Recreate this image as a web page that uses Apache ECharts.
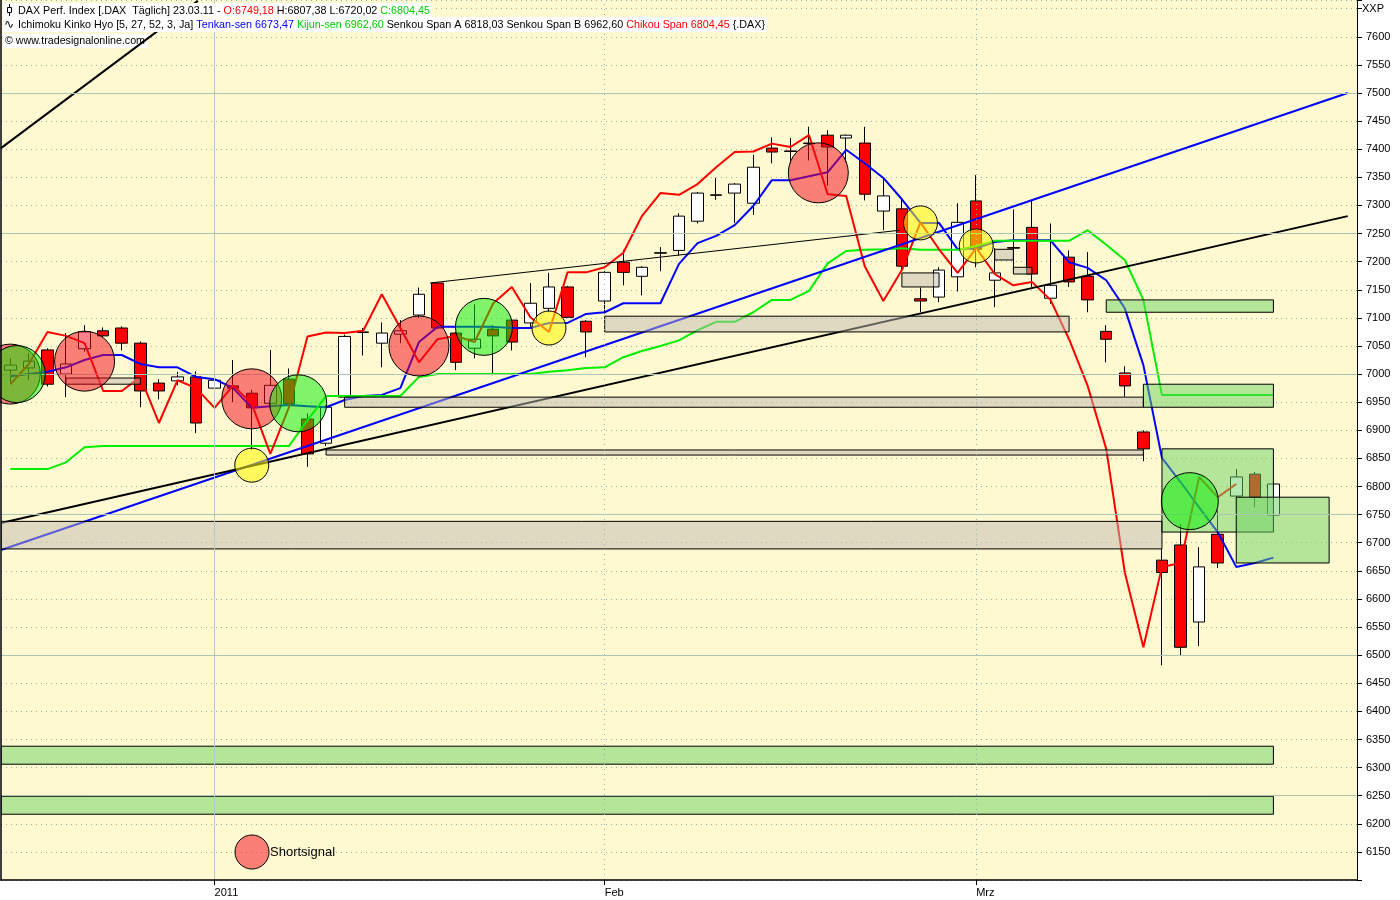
<!DOCTYPE html>
<html>
<head>
<meta charset="utf-8">
<title>DAX Perf. Index – Ichimoku Kinko Hyo</title>
<script src="https://cdn.jsdelivr.net/npm/echarts@6/dist/echarts.min.js"></script>
<style>
  html, body { margin: 0; padding: 0; background: #ffffff; }
  #chart { width: 1400px; height: 900px; }
</style>
</head>
<body>
<div id="chart"></div>
<script>
// ---- Daily bars (DAX), plus empty days on the right -----------------------
const dates = [
  '17.12.10','20.12.10','21.12.10','22.12.10','23.12.10','24.12.10','27.12.10','28.12.10','29.12.10','30.12.10','31.12.10',
  '03.01.11','04.01.11','05.01.11','06.01.11','07.01.11','10.01.11','11.01.11','12.01.11','13.01.11','14.01.11',
  '17.01.11','18.01.11','19.01.11','20.01.11','21.01.11','24.01.11','25.01.11','26.01.11','27.01.11','28.01.11','31.01.11',
  '01.02.11','02.02.11','03.02.11','04.02.11','07.02.11','08.02.11','09.02.11','10.02.11','11.02.11',
  '14.02.11','15.02.11','16.02.11','17.02.11','18.02.11','21.02.11','22.02.11','23.02.11','24.02.11','25.02.11','28.02.11',
  '01.03.11','02.03.11','03.03.11','04.03.11','07.03.11','08.03.11','09.03.11','10.03.11','11.03.11',
  '14.03.11','15.03.11','16.03.11','17.03.11','18.03.11','21.03.11','22.03.11','23.03.11',
  '24.03.11','25.03.11','28.03.11','29.03.11'
];

const opens = [
  7007, 7011, 7043, 7000, 7045, 7077, 7082, 7055, 6984, 6988,
  6995, 6975, 6979, 6966, 6948, 6991, 6920, 6877, 6959, 7075,
  7055, 7071, 7105, 7162, 7073, 7046, 7080, 7096, 7091, 7117,
  7155, 7094, 7130, 7199, 7174, 7215, 7220, 7272, 7318, 7322,
  7304, 7402, 7397, 7411, 7425, 7420, 7411, 7290, 7294, 7134,
  7137, 7173, 7308, 7167, 7225, 7261, 7135, 7208, 7174, 7076,
  7002, 6897, 6669, 6696, 6559, 6715, 6783, 6822, 6749.18
];
const closes = [
  7016, 7023, 6982, 7018, 7075, 7068, 7055, 6970, 6970, 6995,
  6913, 6989, 6975, 6940, 6980, 6947, 6858, 6941, 7067, 7074,
  7073, 7077, 7142, 7082, 7021, 7062, 7068, 7057, 7126, 7155,
  7101, 7075, 7181, 7181, 7190, 7216, 7281, 7322, 7319, 7338,
  7368, 7395, 7396, 7410, 7404, 7425, 7320, 7317, 7192, 7130,
  7185, 7270, 7222, 7180, 7224, 7178, 7158, 7164, 7132, 7062,
  6979, 6867, 6647, 6514, 6657, 6664, 6817, 6781, 6804.45
];
const lows = [
  6984, 6989, 6978, 6959, 7040, 7065, 7042, 6941, 6955, 6980,
  6895, 6953, 6950, 6865, 6945, 6940, 6835, 6872, 6955, 7033,
  7012, 7055, 7100, 7080, 7007, 7028, 6998, 7042, 7083, 7110,
  7100, 7030, 7108, 7158, 7140, 7183, 7211, 7268, 7310, 7269,
  7283, 7375, 7375, 7380, 7335, 7377, 7309, 7256, 7185, 7110,
  7128, 7147, 7190, 7119, 7180, 7155, 7125, 7155, 7110, 7021,
  6960, 6845, 6482, 6500, 6516, 6655, 6780, 6763, 6720.02
];
const highs = [
  7028, 7037, 7046, 7073, 7087, 7083, 7085, 7058, 6991, 7004,
  7005, 7027, 7025, 6972, 7043, 7010, 6930, 6945, 7070, 7082,
  7092, 7096, 7154, 7163, 7075, 7124, 7087, 7098, 7162, 7180,
  7157, 7096, 7183, 7221, 7192, 7226, 7286, 7324, 7349, 7340,
  7390, 7421, 7420, 7440, 7434, 7426, 7440, 7349, 7310, 7154,
  7190, 7304, 7354, 7224, 7293, 7309, 7268, 7220, 7217, 7087,
  7014, 6900, 6690, 6733, 6692, 6758, 6831, 6826, 6807.38
];

// ---- Ichimoku lines ----------------------------------------------------------
const tenkan = [
  6996, 7000, 7004, 7012, 7025, 7034, 7034, 7018, 7012, 7012,
  6995, 6991, 6975, 6940, 6943, 6945, 6943, 6941, 6954, 6961,
  6963, 6975, 7057, 7084, 7084, 7084, 7084, 7082, 7082, 7091,
  7091, 7107, 7110, 7126, 7126, 7126, 7196, 7233, 7246, 7265,
  7299, 7345, 7345, 7352, 7359, 7399, 7375, 7349, 7311, 7269,
  7269, 7222, 7224, 7235, 7238, 7238, 7238, 7199, 7189, 7167,
  7117, 7016, 6851, 6808, 6763, 6719, 6657, 6664, 6673.47
];
const kijun = [
  6831, 6831, 6831, 6843, 6870, 6872, 6872, 6872, 6872, 6872,
  6872, 6872, 6872, 6872, 6872, 6872, 6918, 6961, 6961, 6961,
  6961, 6961, 6995, 7000, 7000, 7000, 7000, 7000, 7000, 7004,
  7007, 7011, 7012, 7030, 7041, 7050, 7060, 7078, 7093, 7093,
  7110, 7132, 7132, 7148, 7197, 7219, 7221, 7222, 7224, 7221,
  7221, 7221, 7228, 7237, 7237, 7237, 7237, 7237, 7256, 7230,
  7203, 7132, 6962.6, 6962.6, 6962.6, 6962.6, 6962.6, 6962.6, 6962.6
];
const chikouLag = 2;            // closes plotted this many bars back
const senkouA = 6818.03;
const senkouB = 6962.60;

// ---- Trend lines: [bar index, price] pairs ----------------------------------
const blueTrend  = [[-0.5, 6687], [72, 7500]];
const blackTrend = [[-0.5, 6735], [72, 7281]];
const steepTrend = [[-0.5, 7402], [10.1, 7664]];
const highsTrend = [[22.6, 7162], [47.9, 7256]];

// ---- Price zones: [from bar, to bar, upper price, lower price] -------------
const greyZones = [
  [-0.5, 62, 6738, 6689],
  [17, 61, 6865, 6856],
  [18, 61, 6959, 6941],
  [32, 57, 7103, 7075],
  [3, 7, 6993, 6982],
  [48, 50, 7180, 7155],
  [53, 54, 7222, 7203],
  [54, 55, 7190, 7178]
];
const greenZones = [
  [-0.5, 68, 6338, 6306],
  [-0.5, 68, 6249, 6217],
  [59, 68, 7132, 7110],
  [61, 68, 6982, 6941],
  [62, 68, 6867, 6719],
  [66, 71, 6781, 6664]
];

// ---- Signal markers: [bar index, price] -------------------------------------
const shortSignals = [[0, 7000], [4, 7023], [13, 6956], [22, 7050], [43.5, 7358]];
const longSignals  = [[0.35, 7000], [15.5, 6948], [25.5, 7084], [63.5, 6774]];
const crossSignals = [[13, 6838], [29, 7082], [49, 7269], [52, 7228]];

// ---- Axis labels --------------------------------------------------------------
const monthLabels = { '03.01.11': '2011', '01.02.11': 'Feb', '01.03.11': 'Mrz' };
const solidPriceLevels = [6250, 6500, 6750, 7000, 7250, 7500];

// -----------------------------------------------------------------------------
const FONT = '"Liberation Sans", Arial, sans-serif';
const BG = '#fef9d0';
const fmt = v => v.toFixed(2).replace('.', ',');
const last = a => a[a.length - 1];

const candles = opens.map((o, i) => [o, closes[i], lows[i], highs[i]]);
const chikou = closes.slice(chikouLag);
const isMonthStart = (idx, val) => Object.prototype.hasOwnProperty.call(monthLabels, val);

const measureCtx = document.createElement('canvas').getContext('2d');
function textWidth(t, font) { measureCtx.font = font; return measureCtx.measureText(t).width; }

// one header row, squeezed horizontally to the given width
function headerRow(segments, x, yMid, width, z) {
  const font = '11px ' + FONT;
  let cum = 0;
  const children = segments.map(([t, c]) => {
    const el = { type: 'text', x: cum, y: 0, z: z,
      style: { text: t, fill: c, font: font, align: 'left', verticalAlign: 'middle' } };
    cum += textWidth(t, font);
    return el;
  });
  return { type: 'group', x: x, y: yMid, scaleX: width / cum, z: z, children: children };
}

const BLACK = '#000000', RED = '#ff0000', GREEN = '#00cc00', BLUE = '#0000ff';
const graphics = [
  { type: 'rect', z: 101, shape: { x: 3, y: 3, width: 429, height: 14 }, style: { fill: '#ffffff' } },
  { type: 'rect', z: 101, shape: { x: 3, y: 17, width: 764, height: 15 }, style: { fill: '#ffffff' } },
  { type: 'rect', z: 2, shape: { x: 3, y: 34, width: 145, height: 14 }, style: { fill: '#ffffff' } },
  // candle icon
  { type: 'line', z: 102, shape: { x1: 9.5, y1: 4, x2: 9.5, y2: 16 }, style: { stroke: BLACK, lineWidth: 1 } },
  { type: 'rect', z: 103, shape: { x: 7.5, y: 7.5, width: 4, height: 5 }, style: { fill: '#ffffff', stroke: BLACK, lineWidth: 1 } },
  { type: 'text', z: 102, x: 4, y: 25, style: { text: '∿', fill: BLACK, font: '12px "DejaVu Sans"', verticalAlign: 'middle' } },
  headerRow([
    ['DAX Perf. Index [.DAX  Täglich] 23.03.11 - ', BLACK],
    ['O:' + fmt(last(opens)), RED],
    [' H:' + fmt(last(highs)) + ' L:' + fmt(last(lows)) + ' ', BLACK],
    ['C:' + fmt(last(closes)), GREEN]
  ], 18, 10.5, 412, 102),
  headerRow([
    ['Ichimoku Kinko Hyo [5, 27, 52, 3, Ja] ', BLACK],
    ['Tenkan-sen ' + fmt(last(tenkan)), BLUE],
    [' ', BLACK],
    ['Kijun-sen ' + fmt(last(kijun)), GREEN],
    [' Senkou Span A ' + fmt(senkouA) + ' Senkou Span B ' + fmt(senkouB) + ' ', BLACK],
    ['Chikou Span ' + fmt(last(chikou)), RED],
    [' {.DAX}', BLACK]
  ], 18, 25, 747, 102),
  headerRow([['© www.tradesignalonline.com', BLACK]], 5, 41, 140, 2),
  { type: 'text', z: 102, x: 1362, y: 9, style: { text: 'XXP', fill: BLACK, font: '11px ' + FONT, verticalAlign: 'middle' } },
  // signal legend
  { type: 'circle', z: 50, shape: { cx: 252, cy: 852, r: 17 }, style: { fill: 'rgba(245,6,23,0.5)', stroke: BLACK, lineWidth: 1 } },
  { type: 'text', z: 50, x: 270, y: 852, style: { text: 'Shortsignal', fill: BLACK, font: '13px ' + FONT, verticalAlign: 'middle' } }
];

function zoneRenderer(fill) {
  return function (params, api) {
    const a = api.coord([api.value(0), api.value(2)]);
    const b = api.coord([api.value(1), api.value(3)]);
    return {
      type: 'rect',
      shape: { x: a[0], y: a[1], width: b[0] - a[0], height: b[1] - a[1] },
      style: { fill: fill, stroke: BLACK, lineWidth: 1 }
    };
  };
}

function trend(data, color, width) {
  return { type: 'line', xAxisIndex: 1, yAxisIndex: 0, data: data, symbol: 'none', silent: true, z: 3,
    lineStyle: { color: color, width: width }, clip: true };
}
function signals(data, color, size) {
  return { type: 'scatter', xAxisIndex: 1, yAxisIndex: 0, data: data, symbol: 'circle', symbolSize: size,
    silent: true, z: 5, itemStyle: { color: color, borderColor: BLACK, borderWidth: 1, opacity: 1 } };
}

const gridMarks = [
  { xAxis: '03.01.11', lineStyle: { color: '#b3c9cc', type: 'solid', width: 1 } },
  { xAxis: '01.02.11', lineStyle: { color: '#93b3a6', type: [1, 4], width: 1 } },
  { xAxis: '01.03.11', lineStyle: { color: '#93b3a6', type: [1, 4], width: 1 } }
].concat(solidPriceLevels.map(v => ({ yAxis: v, lineStyle: { color: '#adc5b5', type: 'solid', width: 1 } })));

const chart = echarts.init(document.getElementById('chart'), null, { renderer: 'canvas' });
chart.setOption({
  animation: false,
  backgroundColor: '#ffffff',
  textStyle: { fontFamily: FONT },
  grid: { left: 1, right: 43, top: 0, bottom: 20, show: true, backgroundColor: BG, borderWidth: 0,
          containLabel: false, outerBoundsMode: 'none' },
  xAxis: [
    { type: 'category', data: dates, boundaryGap: true, position: 'bottom', z: 10,
      axisLine: { show: true, onZero: false, lineStyle: { color: BLACK, width: 1.5 } },
      axisTick: { show: true, alignWithLabel: true, length: 5, interval: isMonthStart, lineStyle: { color: BLACK } },
      axisLabel: { show: true, interval: isMonthStart, formatter: v => monthLabels[v] || '', align: 'left',
                   color: BLACK, fontSize: 11, fontFamily: FONT, margin: 7 },
      splitLine: { show: false } },
    { type: 'value', min: -0.5, max: 72.5, show: false }
  ],
  yAxis: [
    { type: 'value', position: 'right', min: 6100, max: 7665.5, interval: 50, z: 0,
      axisLine: { show: true, onZero: false, lineStyle: { color: BLACK, width: 1 } },
      axisTick: { show: true, length: 5, lineStyle: { color: BLACK } },
      axisLabel: { show: true, color: BLACK, fontSize: 11, fontFamily: FONT, margin: 9,
                   formatter: v => (v > 6100 && v <= 7600) ? String(v) : '' },
      splitLine: { show: true, lineStyle: { color: '#93b3a6', width: 1, type: [1, 4] } } },
    { type: 'value', position: 'left', min: 6100, max: 7665.5, z: 10,
      axisLine: { show: true, onZero: false, lineStyle: { color: BLACK, width: 1.5 } },
      axisTick: { show: false }, axisLabel: { show: false }, splitLine: { show: false } }
  ],
  series: [
    { type: 'line', xAxisIndex: 0, yAxisIndex: 0, data: [], silent: true, z: 1,
      markLine: { silent: true, symbol: ['none', 'none'], animation: false, label: { show: false },
                  emphasis: { disabled: true }, data: gridMarks } },
    { type: 'candlestick', xAxisIndex: 0, yAxisIndex: 0, data: candles, barWidth: 12, silent: true, z: 2,
      itemStyle: { color: '#ffffff', color0: RED, borderColor: BLACK, borderColor0: BLACK,
                   borderColorDoji: BLACK, borderWidth: 1 } },
    { type: 'line', name: 'Tenkan-sen', data: tenkan, symbol: 'none', silent: true, z: 3,
      lineStyle: { color: BLUE, width: 2 } },
    { type: 'line', name: 'Kijun-sen', data: kijun, symbol: 'none', silent: true, z: 3,
      lineStyle: { color: '#00ee00', width: 2 } },
    { type: 'line', name: 'Chikou Span', data: chikou, symbol: 'none', silent: true, z: 3,
      lineStyle: { color: RED, width: 2 } },
    trend(blueTrend, BLUE, 2),
    trend(blackTrend, BLACK, 2),
    trend(steepTrend, BLACK, 2),
    trend(highsTrend, BLACK, 1),
    { type: 'custom', xAxisIndex: 1, yAxisIndex: 0, data: greyZones, silent: true, z: 4, clip: true,
      encode: { x: [0, 1], y: [2, 3] }, renderItem: zoneRenderer('rgba(189,186,176,0.5)') },
    { type: 'custom', xAxisIndex: 1, yAxisIndex: 0, data: greenZones, silent: true, z: 4, clip: true,
      encode: { x: [0, 1], y: [2, 3] }, renderItem: zoneRenderer('rgba(107,210,98,0.5)') },
    signals(shortSignals, 'rgba(245,6,23,0.5)', 60),
    signals(longSignals, 'rgba(0,240,0,0.5)', 57),
    signals(crossSignals, 'rgba(255,250,0,0.55)', 34)
  ],
  graphic: graphics
});
</script>
</body>
</html>
